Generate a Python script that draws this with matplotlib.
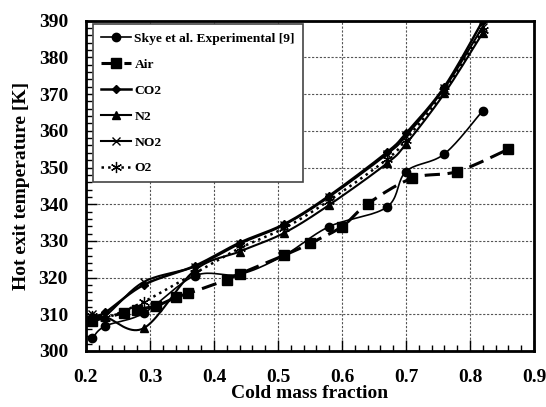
import numpy as np
import matplotlib
matplotlib.use("Agg")
import matplotlib.pyplot as plt
from matplotlib.ticker import MultipleLocator

plt.rcParams['font.family'] = ['Liberation Serif', 'DejaVu Serif']
plt.rcParams['font.weight'] = 'bold'

# Data
skye_x = [0.21, 0.23, 0.29, 0.37, 0.44, 0.51, 0.58, 0.67, 0.70, 0.76, 0.82]
skye_y = [303.5, 306.8, 310.3, 320.5, 320.9, 326.1, 333.9, 339.2, 348.9, 353.7, 365.5]

air_x = [0.21, 0.26, 0.28, 0.31, 0.34, 0.36, 0.42, 0.44, 0.51, 0.55, 0.60, 0.64, 0.71, 0.78, 0.86]
air_y = [308.2, 310.4, 311.3, 312.3, 314.6, 315.7, 319.4, 321.0, 326.1, 329.3, 333.9, 340.1, 347.1, 348.9, 355.0]

gas_x = [0.21, 0.23, 0.29, 0.37, 0.44, 0.51, 0.58, 0.67, 0.70, 0.76, 0.82]
co2_y = [309.5, 310.5, 318.0, 323.2, 329.5, 334.6, 342.3, 354.1, 359.3, 372.0, 390.0]
n2_y = [308.5, 309.3, 306.2, 322.0, 327.1, 332.2, 339.8, 351.1, 356.4, 370.2, 386.7]
no2_y = [310.0, 309.6, 318.8, 323.0, 329.2, 334.4, 342.0, 353.6, 358.6, 371.6, 388.4]
o2_y = [309.6, 309.0, 313.4, 321.2, 328.0, 333.5, 341.0, 352.2, 357.6, 370.8, 387.6]

x_ticks = [0.2, 0.3, 0.4, 0.5, 0.6, 0.7, 0.8, 0.9]
y_ticks = [300, 310, 320, 330, 340, 350, 360, 370, 380, 390]


def smooth(xs, ys, n=20):
    """Catmull-Rom (Excel-like) smoothed path through the points."""
    x = np.asarray(xs, float)
    y = np.asarray(ys, float)
    px = np.concatenate([[x[0]], x, [x[-1]]])
    py = np.concatenate([[y[0]], y, [y[-1]]])
    outx, outy = [], []
    t = np.linspace(0, 1, n)
    for i in range(1, len(px) - 2):
        p0x, p1x, p2x, p3x = px[i - 1], px[i], px[i + 1], px[i + 2]
        p0y, p1y, p2y, p3y = py[i - 1], py[i], py[i + 1], py[i + 2]
        c1x = p1x + (p2x - p0x) / 6
        c1y = p1y + (p2y - p0y) / 6
        c2x = p2x - (p3x - p1x) / 6
        c2y = p2y - (p3y - p1y) / 6
        bx = ((1 - t) ** 3) * p1x + 3 * ((1 - t) ** 2) * t * c1x + 3 * (1 - t) * t ** 2 * c2x + t ** 3 * p2x
        by = ((1 - t) ** 3) * p1y + 3 * ((1 - t) ** 2) * t * c1y + 3 * (1 - t) * t ** 2 * c2y + t ** 3 * p2y
        outx.extend(bx)
        outy.extend(by)
    return np.array(outx), np.array(outy)


fig = plt.figure(figsize=(5.46, 4.07), dpi=100)
ax = fig.add_axes([0.1575, 0.1376, 0.8205, 0.8115])

series = [
    ("Skye et al. Experimental [9]", skye_x, skye_y, dict(ls='-', lw=1.2, marker='o', ms=6)),
    ("Air", air_x, air_y, dict(ls=(0, (5, 2.5)), lw=2.2, marker='s', ms=6.5)),
    ("CO2", gas_x, co2_y, dict(ls='-', lw=1.8, marker='D', ms=4)),
    ("N2", gas_x, n2_y, dict(ls='-', lw=1.5, marker='^', ms=6)),
    ("NO2", gas_x, no2_y, dict(ls='-', lw=1.5, marker='x', ms=6, mew=1.0)),
    ("O2", gas_x, o2_y, dict(ls=':', lw=1.8, marker=(6, 2, 0), ms=8, mew=0.9)),
]

handles = []
for label, xs, ys, st in series:
    sx, sy = smooth(xs, ys)
    ax.plot(sx, sy, color='black', ls=st['ls'], lw=st['lw'], zorder=3)
    ax.plot(xs, ys, ls='none', marker=st['marker'], ms=st['ms'], color='black',
            mec='black', mew=st.get('mew', 1.0), zorder=4)
    h, = ax.plot([], [], color='black', ls=st['ls'], lw=st['lw'], marker=st['marker'],
                 ms=st['ms'], mew=st.get('mew', 1.0), label=label)
    handles.append(h)

ax.set_xlim(0.2, 0.9)
ax.set_ylim(300, 390)
ax.set_xticks(x_ticks)
ax.set_yticks(y_ticks)
ax.set_xticklabels([f"{v:.1f}" for v in x_ticks])
ax.set_yticklabels([str(v) for v in y_ticks])
ax.xaxis.set_minor_locator(MultipleLocator(0.02))
ax.yaxis.set_minor_locator(MultipleLocator(2))
ax.tick_params(which='both', direction='in', top=False, right=False, labelsize=14, width=1.0)
ax.tick_params(which='major', length=8)
ax.tick_params(which='minor', length=4)
ax.tick_params(axis='x', pad=13)
ax.tick_params(axis='y', pad=13)
for lab in ax.get_xticklabels() + ax.get_yticklabels():
    lab.set_fontweight('bold')

ax.grid(True, which='major', color='#555555', ls=(0, (2, 1.5)), lw=0.8)
ax.set_axisbelow(True)
for sp in ax.spines.values():
    sp.set_linewidth(2.0)

ax.set_xlabel("Cold mass fraction", fontsize=14, fontweight='bold', labelpad=-1)
ax.set_ylabel("Hot exit temperature [K]", fontsize=14, fontweight='bold', labelpad=6)

leg = ax.legend(handles=handles, loc='upper left', prop={'weight': 'bold', 'size': 9.7},
                frameon=True, fancybox=False, edgecolor='#444444', framealpha=1,
                handlelength=2.2, labelspacing=1.0, borderpad=0.6, handletextpad=0.25,
                borderaxespad=0.15, bbox_to_anchor=(0.012, 0.995))
leg.get_frame().set_linewidth(1.2)

fig.savefig("out.png", dpi=100)
